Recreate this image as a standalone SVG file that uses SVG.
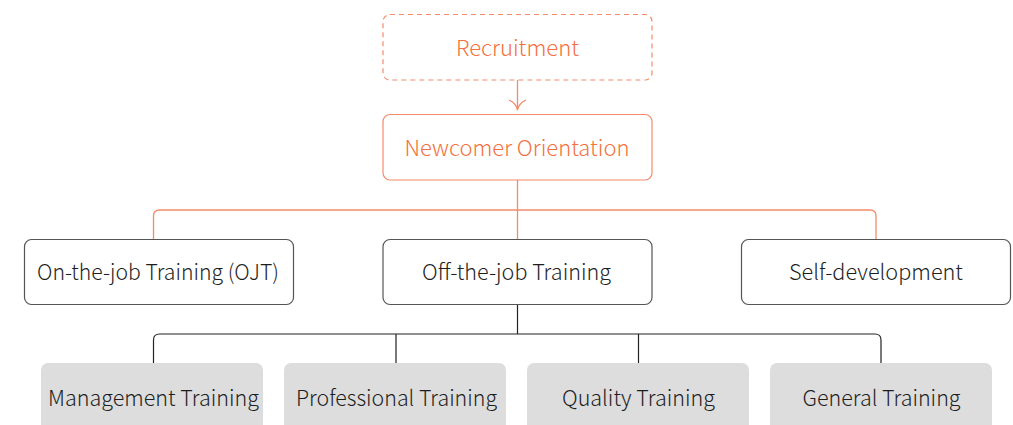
<svg xmlns="http://www.w3.org/2000/svg" width="1013" height="425" viewBox="0 0 1013 425">
<style>
text{font-family:"Noto Sans CJK SC","Source Sans Pro","Noto Sans",sans-serif;font-size:21.5px;font-weight:300;text-anchor:middle;dominant-baseline:central;lengthAdjust:spacingAndGlyphs}
.o{fill:#fff;stroke:#f58a6a;stroke-width:1.2}
.ot{fill:#f4703c}
.w{fill:#fff;stroke:#555;stroke-width:1.2}
.g{fill:#dcdddc}
.dt{fill:#1e1e1e}
.ol{fill:none;stroke:#f58a6a;stroke-width:1.3}
.bl{fill:none;stroke:#222;stroke-width:1.2}
</style>
<g id="connectors">
<path class="ol" d="M517.5 80V108"/>
<path class="ol" d="M509 100Q516 103 517.5 110Q519 103 526 100"/>
<path class="ol" d="M517.5 180V239"/>
<path class="ol" d="M153.5 239V216Q153.5 210 159.5 210H870Q876 210 876 216V239"/>
<path class="bl" d="M517.5 304V334"/>
<path class="bl" d="M153.5 363V340Q153.5 334 159.5 334H875Q881 334 881 340V363"/>
<path class="bl" d="M396 334V363M638.5 334V363"/>
</g>
<g id="recruitment">
<rect x="383" y="14.5" width="269" height="65.5" rx="7" fill="#fff" stroke="#f58a6a" stroke-width="1.2" stroke-dasharray="5,4"/>
<text class="ot" x="517.5" y="46.5" textLength="123" lengthAdjust="spacingAndGlyphs">Recruitment</text>
</g>
<g id="newcomer">
<rect class="o" x="383" y="114.5" width="269" height="65.5" rx="7"/>
<text class="ot" x="517" y="146.5" textLength="225" lengthAdjust="spacingAndGlyphs">Newcomer Orientation</text>
</g>
<g id="ojt">
<rect class="w" x="24.5" y="239.5" width="269" height="65" rx="7"/>
<text class="dt" x="158" y="270.5" textLength="242" lengthAdjust="spacingAndGlyphs">On-the-job Training (OJT)</text>
</g>
<g id="offjt">
<rect class="w" x="383" y="239.5" width="269" height="65" rx="7"/>
<text class="dt" x="516.5" y="270.5" textLength="189" lengthAdjust="spacingAndGlyphs">Off-the-job Training</text>
</g>
<g id="selfdev">
<rect class="w" x="741.5" y="239.5" width="269" height="65" rx="7"/>
<text class="dt" x="876" y="270.5" textLength="174" lengthAdjust="spacingAndGlyphs">Self-development</text>
</g>
<g id="management">
<rect class="g" x="41" y="363" width="222" height="80" rx="7"/>
<text class="dt" x="153.5" y="396.5" textLength="211" lengthAdjust="spacingAndGlyphs">Management Training</text>
</g>
<g id="professional">
<rect class="g" x="284" y="363" width="222" height="80" rx="7"/>
<text class="dt" x="396.5" y="396.5" textLength="201" lengthAdjust="spacingAndGlyphs">Professional Training</text>
</g>
<g id="quality">
<rect class="g" x="527" y="363" width="222" height="80" rx="7"/>
<text class="dt" x="638.5" y="396.5" textLength="153" lengthAdjust="spacingAndGlyphs">Quality Training</text>
</g>
<g id="general">
<rect class="g" x="770" y="363" width="222" height="80" rx="7"/>
<text class="dt" x="881.5" y="396.5" textLength="158" lengthAdjust="spacingAndGlyphs">General Training</text>
</g>
</svg>
